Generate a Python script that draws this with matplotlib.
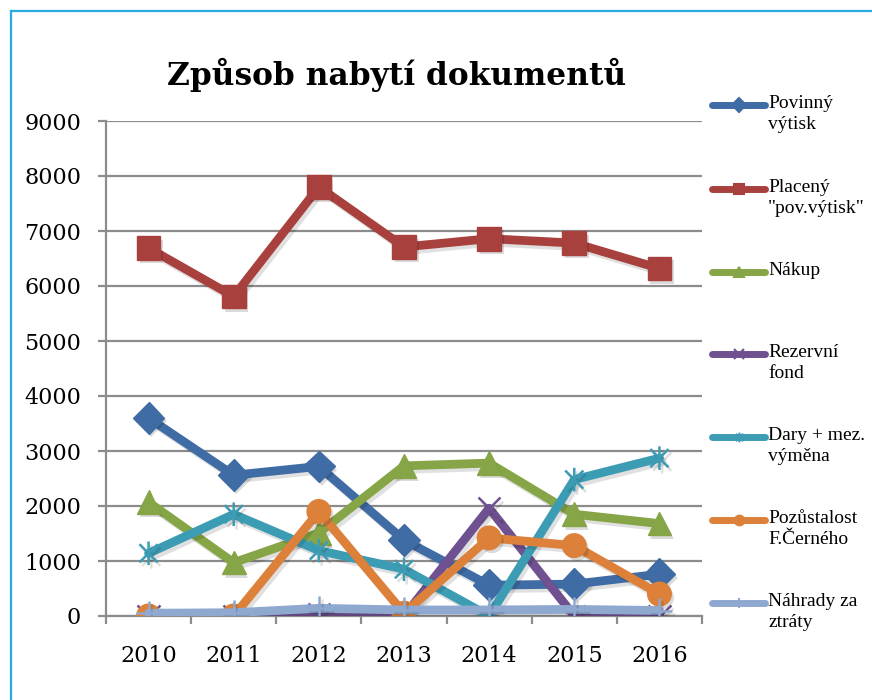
import matplotlib
matplotlib.use("Agg")
import matplotlib.pyplot as plt
import matplotlib.patheffects as pe
from matplotlib.lines import Line2D
from matplotlib.path import Path
import numpy as np

years = ["2010", "2011", "2012", "2013", "2014", "2015", "2016"]

povinny = [3600, 2560, 2720, 1380, 560, 580, 760]
placeny = [6690, 5810, 7800, 6710, 6860, 6780, 6320]
nakup = [2070, 970, 1510, 2730, 2780, 1850, 1680]
rezervni = [0, 0, 30, 0, 1960, 0, 0]
dary = [1140, 1850, 1190, 850, 0, 2480, 2870]
pozustalost = [0, 0, 1900, 50, 1420, 1280, 400]
nahrady = [50, 60, 140, 110, 110, 120, 100]

labels = ["Povinný\nvýtisk", "Placený\n\"pov.výtisk\"", "Nákup", "Rezervní\nfond",
          "Dary + mez.\nvýměna", "Pozůstalost\nF.Černého", "Náhrady za\nztráty"]
colors = ["#3F6CA5", "#A8413E", "#86A546", "#6F5090", "#3C9CB4", "#DC803A", "#8FA8D0"]

# asterisk marker like Excel's: X plus a vertical bar
star = Path([(-1, -1), (1, 1), (-1, 1), (1, -1), (0, -1.3), (0, 1.3)],
            [Path.MOVETO, Path.LINETO, Path.MOVETO, Path.LINETO, Path.MOVETO, Path.LINETO])

# marker, size, filled
markers = [("D", 16, True), ("s", 17, True), ("^", 17, True), ("x", 16, False),
           (star, 17, False), ("o", 17, True), ("+", 18, False)]

series = [povinny, placeny, nakup, rezervni, dary, pozustalost, nahrady]

plt.rcParams['font.family'] = ['DejaVu Serif']

fig = plt.figure(figsize=(8.72, 7), dpi=100)
ax = fig.add_axes([106 / 872, 1 - 616 / 700, (702 - 106) / 872, (616 - 121) / 700])

x = np.arange(len(years))
grid_c = "#8c8c8c"

line_fx = [pe.SimpleLineShadow(offset=(2, -2.5), shadow_color="k", alpha=0.12), pe.Normal()]
fill_fx = [pe.SimplePatchShadow(offset=(2, -2.5), shadow_rgbFace="k", alpha=0.14), pe.Normal()]

for i, (vals, c, (m, ms, filled)) in enumerate(zip(series, colors, markers)):
    z = 3 + i
    ax.plot(x, vals, color=c, lw=6.3, solid_capstyle="round", solid_joinstyle="round",
            zorder=z, path_effects=line_fx)
    if filled:
        ax.plot(x, vals, ls="none", marker=m, ms=ms, color=c, mec=c, zorder=z + 0.5,
                path_effects=fill_fx)
    else:
        ax.plot(x, vals, ls="none", marker=m, ms=ms, color=c, mec=c, mew=1.8,
                zorder=z + 0.5, path_effects=line_fx)

ax.set_ylim(0, 9000)
ax.set_xlim(-0.5, len(years) - 0.5)
ax.set_yticks(np.arange(0, 9001, 1000))
ax.yaxis.grid(True, color=grid_c, lw=1.6)
ax.set_axisbelow(True)
ax.tick_params(axis="y", length=6, width=1.6, color=grid_c, pad=12, labelsize=16)

ax.set_xticks(np.arange(-0.5, len(years)), labels=[""] * (len(years) + 1))
ax.set_xticks(x, labels=years, minor=True)
ax.tick_params(axis="x", which="major", length=6, width=1.6, color=grid_c, direction="out")
ax.tick_params(axis="x", which="minor", length=0, pad=21, labelsize=16)

for s in ["top", "right"]:
    ax.spines[s].set_visible(False)
for s in ["left", "bottom"]:
    ax.spines[s].set_color(grid_c)
    ax.spines[s].set_linewidth(1.6)

fig.text(397 / 872, 1 - 75 / 700, "Způsob nabytí dokumentů", ha="center", va="center",
         fontsize=22.5, fontweight="bold")

# legend on the right
leg_y = [105, 189, 272, 354, 437, 520, 603]
for lab, c, (m, ms, filled), yy in zip(labels, colors, markers, leg_y):
    fy = 1 - yy / 700
    fig.add_artist(Line2D([712 / 872, 765 / 872], [fy, fy], color=c, lw=5,
                          solid_capstyle="round"))
    fig.add_artist(Line2D([738.5 / 872], [fy], color=c, marker=m, ms=7, mew=1.5, mec=c,
                          ls="none"))
    fig.text(768 / 872, fy + 10 / 700, lab, ha="left", va="top", fontsize=14,
             family=["Liberation Serif", "DejaVu Serif"], linespacing=1.3)

# light blue frame, only top and left edges are visible in the crop
border = "#29ABE2"
fig.add_artist(Line2D([11 / 872, 1.0], [1 - 11 / 700] * 2, color=border, lw=1.6))
fig.add_artist(Line2D([11 / 872] * 2, [0.0, 1 - 11 / 700], color=border, lw=1.6))

fig.savefig("out.png", dpi=100)
